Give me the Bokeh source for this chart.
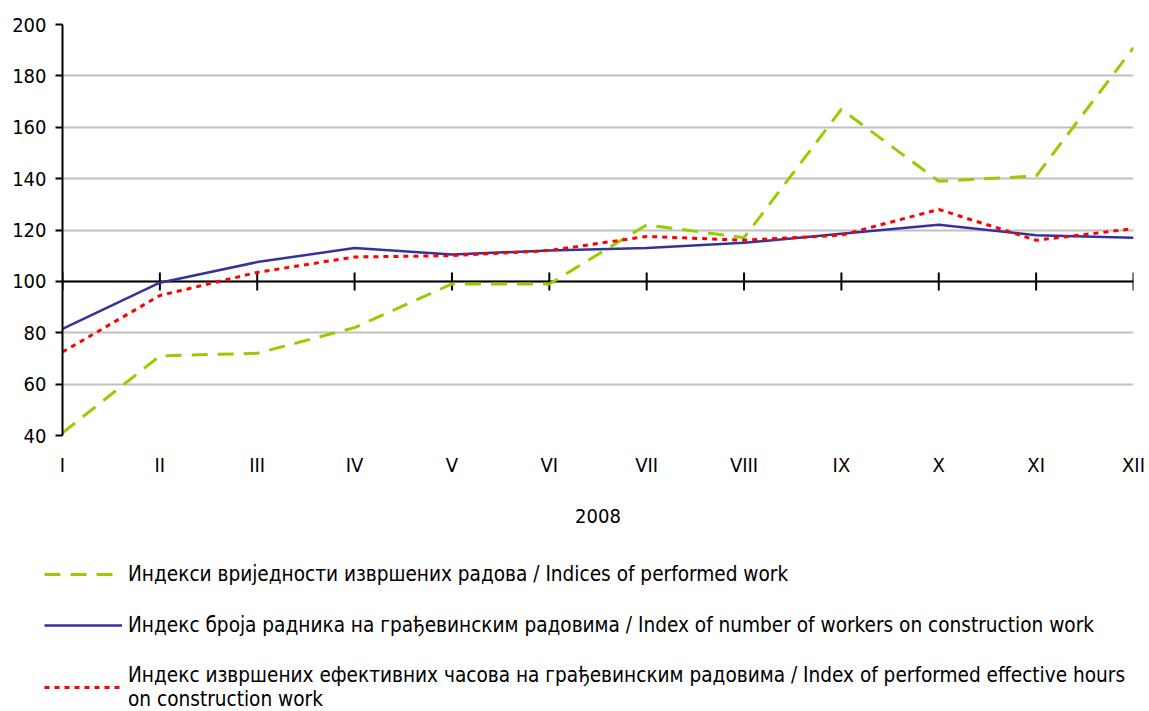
from bokeh.plotting import figure
from bokeh.layouts import column
from bokeh.models import Span, Legend, LegendItem, FixedTicker, Range1d
from bokeh.embed import file_html
from bokeh.resources import INLINE

months = ["I", "II", "III", "IV", "V", "VI", "VII", "VIII", "IX", "X", "XI", "XII"]
year_label = "2008"
performed_work = [41, 71, 72, 82, 99, 99, 122, 117, 167, 139, 141, 191]
workers = [81.5, 99.5, 107.5, 113, 110.5, 112, 113, 115, 118.5, 122, 118, 117]
hours = [72.5, 94.5, 103.5, 109.5, 110, 112, 117.5, 116, 118, 128, 116, 120.5]
y_ticks = [40, 60, 80, 100, 120, 140, 160, 180, 200]
baseline = 100
series_labels = [
    "Индекси вриједности извршених радова / Indices of performed work",
    "Индекс броја радника на грађевинским радовима / Index of number of workers on construction work",
    "Индекс извршених ефективних часова на грађевинским радовима / Index of performed effective hours\non construction work",
]

FONT = "DejaVu Sans Condensed"
GREEN, BLUE, RED = "#99CC00", "#333399", "#FF0000"
x = list(range(len(months)))

p = figure(width=1149, height=555,
           x_range=Range1d(x[0], x[-1]), y_range=Range1d(y_ticks[0], y_ticks[-1]),
           output_backend="svg", toolbar_location=None,
           min_border_left=62, min_border_top=24, min_border_right=16, min_border_bottom=120)
p.outline_line_color = None
p.frame_align = False

# grid
p.xgrid.visible = False
p.ygrid.ticker = FixedTicker(ticks=y_ticks)
p.ygrid.grid_line_color = "#c0c0c0"
p.ygrid.grid_line_width = 2

# y axis
p.yaxis.ticker = FixedTicker(ticks=y_ticks)
p.yaxis.axis_line_color = "black"
p.yaxis.axis_line_width = 2
p.yaxis.major_tick_line_color = "black"
p.yaxis.major_tick_line_width = 2
p.yaxis.major_tick_out = 7
p.yaxis.major_tick_in = 0
p.yaxis.minor_tick_line_color = None
p.yaxis.major_label_standoff = 9
p.yaxis.major_label_text_font = FONT
p.yaxis.major_label_text_font_size = "20px"
p.yaxis.major_label_text_color = "black"

# x axis (labels only)
p.xaxis.ticker = FixedTicker(ticks=x)
p.xaxis.major_label_overrides = {i: m for i, m in zip(x, months)}
p.xaxis.axis_line_color = None
p.xaxis.major_tick_line_color = None
p.xaxis.minor_tick_line_color = None
p.xaxis.major_label_standoff = 11
p.xaxis.major_label_text_font = FONT
p.xaxis.major_label_text_font_size = "20px"
p.xaxis.major_label_text_color = "black"
p.xaxis.axis_label = year_label
p.xaxis.axis_label_text_font = FONT
p.xaxis.axis_label_text_font_size = "20px"
p.xaxis.axis_label_text_font_style = "normal"
p.xaxis.axis_label_text_color = "black"
p.xaxis.axis_label_standoff = 29

# crossing axis line at 100 with tick marks
span = Span(location=baseline, dimension="width", line_color="black", line_width=2, level="underlay")
p.add_layout(span)
p.scatter(x, [baseline] * len(x), marker="dash", angle=1.5708, size=18,
          line_color="black", line_width=2)

p.line(x, performed_work, line_color=GREEN, line_width=3, line_dash="16 10")
p.line(x, workers, line_color=BLUE, line_width=2.5)
p.line(x, hours, line_color=RED, line_width=3, line_dash="5 5")

# legend panel (separate figure below the chart; its ranges keep the series out of view)
lg = figure(width=1149, height=156, x_range=Range1d(-1000, -999), y_range=Range1d(-1000, -999),
            output_backend="svg", toolbar_location=None,
            min_border_left=0, min_border_right=0, min_border_top=0, min_border_bottom=0)
lg.frame_align = False
lg.axis.visible = False
lg.grid.visible = False
lg.outline_line_color = None
s1 = lg.line(x, performed_work, line_color=GREEN, line_width=3, line_dash="16 10")
s2 = lg.line(x, workers, line_color=BLUE, line_width=2.5)
s3 = lg.line(x, hours, line_color=RED, line_width=3, line_dash="5 5")

legend = Legend(items=[LegendItem(label=series_labels[0], renderers=[s1]),
                       LegendItem(label=series_labels[1], renderers=[s2]),
                       LegendItem(label=series_labels[2], renderers=[s3])],
                location=(44, 0), orientation="vertical",
                border_line_color=None, background_fill_alpha=0,
                padding=0, margin=0, spacing=25,
                glyph_width=78, glyph_height=26, label_height=26, label_standoff=6,
                label_text_font=FONT, label_text_font_size="20.6px",
                label_text_color="black", label_text_line_height=1.32)
lg.add_layout(legend)

open("out.html", "w").write(file_html(column(p, lg, spacing=0), INLINE))
